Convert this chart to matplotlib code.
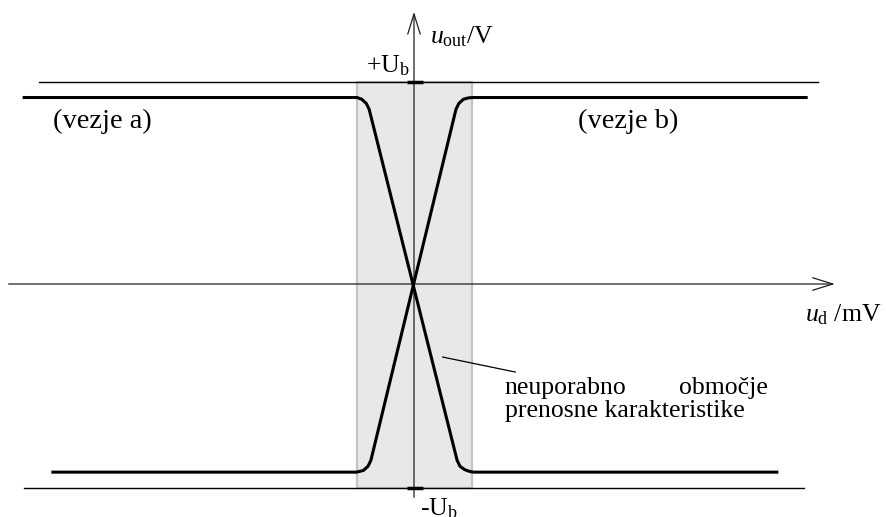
import matplotlib
matplotlib.use("Agg")
import matplotlib.pyplot as plt
from matplotlib.patches import Rectangle

plt.rcParams["font.family"] = ["Liberation Serif", "DejaVu Serif"]
plt.rcParams["mathtext.fontset"] = "custom"
plt.rcParams["mathtext.rm"] = "Liberation Serif"
plt.rcParams["mathtext.it"] = "Liberation Serif:italic"

# supply rail and saturation levels (V), unusable input band (mV)
u_b = 12.0
band = [-1.0, 1.0]

# transfer characteristic, circuit b (non-inverting)
ud_b = [-6.28, -1.00, -0.88, -0.80, -0.75, 0.73, 0.78, 0.86, 0.95, 1.03, 6.82]
uo_b = [-11.2, -11.2, -11.1, -10.85, -10.5, 10.4, 10.75, 11.0, 11.08, 11.1, 11.1]

# transfer characteristic, circuit a (inverting)
ud_a = [-6.78, -0.99, -0.91, -0.83, -0.78, 0.75, 0.80, 0.88, 0.96, 1.03, 6.31]
uo_a = [11.1, 11.1, 11.0, 10.75, 10.4, -10.5, -10.85, -11.05, -11.15, -11.2, -11.2]

# rail lines at +U_b / -U_b
rail_top_x = [-6.52, 7.03]
rail_bot_x = [-6.78, 6.78]

# pointer to the unusable region note
note_x = [0.50, 1.76]
note_y = [-4.35, -5.24]

fig = plt.figure(figsize=(8.87, 5.17), dpi=100)
ax = fig.add_axes([0, 0, 1, 1])
ax.set_xlim(-7.2, 8.226)
ax.set_ylim(-13.87, 16.905)
ax.axis("off")

ax.add_patch(Rectangle((band[0], -u_b - 0.15), band[1] - band[0], 2 * u_b + 0.15,
                       facecolor="#e8e8e8", edgecolor="#c4c4c4", lw=1.6, zorder=1))

ax.plot(rail_top_x, [u_b, u_b], color="black", lw=1.0, zorder=2)
ax.plot(rail_bot_x, [-u_b - 0.15, -u_b - 0.15], color="black", lw=1.0, zorder=2)

# axes with open arrow heads
ax.annotate("", xy=(7.32, 0), xytext=(-7.05, 0),
            arrowprops=dict(arrowstyle="->,head_length=1.45,head_width=0.45",
                            mutation_scale=10, lw=0.9, color="#202020",
                            shrinkA=0, shrinkB=0), zorder=3)
ax.annotate("", xy=(0, 16.2), xytext=(0, -12.7),
            arrowprops=dict(arrowstyle="->,head_length=1.45,head_width=0.45",
                            mutation_scale=10, lw=0.9, color="#202020",
                            shrinkA=0, shrinkB=0), zorder=3)

# ticks at the rails
ax.plot([-0.12, 0.16], [u_b, u_b], color="black", lw=2.5, solid_capstyle="butt", zorder=4)
ax.plot([-0.12, 0.16], [-u_b - 0.15, -u_b - 0.15], color="black", lw=2.5,
        solid_capstyle="butt", zorder=4)

ax.plot(ud_a, uo_a, color="black", lw=2.2, solid_joinstyle="round", zorder=5)
ax.plot(ud_b, uo_b, color="black", lw=2.2, solid_joinstyle="round", zorder=5)

ax.plot(note_x, note_y, color="black", lw=0.9, zorder=5)

fs = 18.5
ax.text(-6.28, 9.7, "(vezje a)", fontsize=20.5, va="center", ha="left")
ax.text(2.85, 9.7, "(vezje b)", fontsize=20.5, va="center", ha="left")
ax.text(0.28, 14.35, r"$u_{\mathrm{out}}$/V", fontsize=fs, va="baseline", ha="left")
ax.text(-0.07, 12.6, r"+U$_{\mathrm{b}}$", fontsize=fs, va="baseline", ha="right")
ax.text(0.1, -13.75, r"-U$_{\mathrm{b}}$", fontsize=fs, va="baseline", ha="left")
ax.text(6.8, -2.2, r"$u_{\mathrm{d}}$ /mV", fontsize=fs, va="baseline", ha="left")
ax.text(1.58, -6.55, "neuporabno", fontsize=fs, va="baseline", ha="left")
ax.text(6.16, -6.55, "območje", fontsize=fs, va="baseline", ha="right")
ax.text(1.58, -7.9, "prenosne karakteristike", fontsize=fs, va="baseline", ha="left")

fig.savefig("out.png", dpi=100)
